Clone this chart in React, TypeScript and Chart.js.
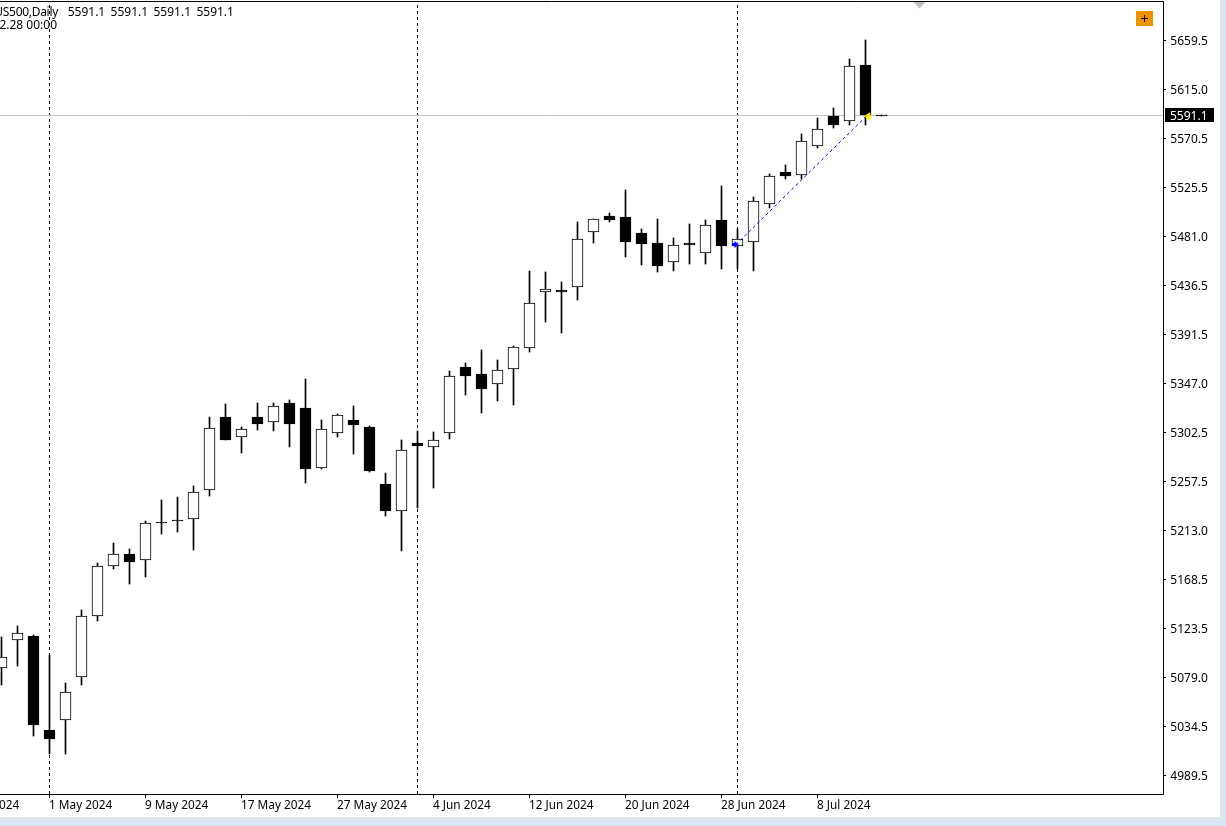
import React, { useEffect, useRef } from "react";
import { Chart, registerables } from "chart.js";

Chart.register(...registerables);

const symbolText = "US500,Daily";
const quoteValues = [5591.1, 5591.1, 5591.1, 5591.1];
const timeText = "2024.02.28 00:00";
const currentPrice = 5591.1;

const firstBarIndex = 3;
const tickLabels = ["23 Apr 2024", "1 May 2024", "9 May 2024", "17 May 2024", "27 May 2024", "4 Jun 2024", "12 Jun 2024", "20 Jun 2024", "28 Jun 2024", "8 Jul 2024"];
const tickIndices = [0, 6, 12, 18, 24, 30, 36, 42, 48, 54];
const yTicks = [5659.5, 5615.0, 5570.5, 5525.5, 5481.0, 5436.5, 5391.5, 5347.0, 5302.5, 5257.5, 5213.0, 5168.5, 5123.5, 5079.0, 5034.5, 4989.5];
const separators = [6, 29, 49];

const highs = [
  5115.8, 5125.8, 5117.6, 5099.4, 5073.8, 5140.4, 5183.2, 5201.4, 5196.0, 5221.5,
  5240.6, 5243.4, 5253.4, 5316.3, 5328.2, 5307.2, 5329.1, 5329.1, 5331.8, 5350.9,
  5313.6, 5319.0, 5326.3, 5308.1, 5265.3, 5295.3, 5303.5, 5302.6, 5358.2, 5365.5,
  5377.4, 5368.3, 5381.0, 5449.4, 5448.5, 5439.4, 5494.1, 5496.8, 5502.3, 5523.2,
  5487.7, 5496.8, 5479.5, 5492.2, 5495.9, 5526.9, 5487.7, 5516.8, 5537.8, 5546.0,
  5574.3, 5588.9, 5598.0, 5642.6, 5660.0, 5591.1,
];
const lows = [
  5072.0, 5089.3, 5025.5, 5009.1, 5009.1, 5072.0, 5130.3, 5177.7, 5164.1, 5170.5,
  5209.6, 5211.5, 5195.1, 5244.3, 5295.3, 5283.5, 5304.5, 5303.5, 5289.0, 5256.1,
  5268.9, 5298.1, 5282.6, 5266.2, 5226.1, 5194.2, 5233.4, 5251.6, 5296.2, 5336.4,
  5320.0, 5330.9, 5327.2, 5375.6, 5402.9, 5392.9, 5423.0, 5474.9, 5494.1, 5462.2,
  5454.9, 5448.5, 5449.4, 5455.8, 5455.8, 5451.2, 5451.2, 5449.4, 5506.8, 5533.3,
  5533.3, 5561.5, 5579.7, 5582.5, 5582.5, 5591.1,
];
const opens = [
  5087.5, 5113.0, 5116.7, 5031.0, 5040.1, 5079.3, 5134.9, 5180.5, 5191.4, 5186.0,
  5220.6, 5222.4, 5223.3, 5249.8, 5316.3, 5298.1, 5316.3, 5311.7, 5329.1, 5324.5,
  5269.8, 5301.7, 5313.6, 5307.2, 5255.2, 5230.6, 5292.6, 5289.0, 5301.7, 5361.9,
  5355.5, 5346.4, 5360.1, 5379.2, 5430.2, 5432.1, 5434.8, 5484.9, 5499.5, 5498.6,
  5484.0, 5474.9, 5457.6, 5474.9, 5465.8, 5495.9, 5472.2, 5475.8, 5510.5, 5539.6,
  5536.9, 5563.3, 5590.7, 5586.1, 5637.2, 5591.1,
];
const closes = [
  5097.5, 5119.4, 5035.5, 5022.8, 5065.6, 5134.9, 5180.5, 5191.4, 5184.1, 5219.7,
  5220.6, 5222.4, 5247.9, 5306.3, 5295.3, 5305.4, 5309.9, 5326.3, 5309.9, 5268.9,
  5305.4, 5318.1, 5309.0, 5267.1, 5230.6, 5286.2, 5289.9, 5295.3, 5353.7, 5353.7,
  5341.8, 5359.1, 5380.1, 5420.2, 5433.0, 5430.2, 5478.6, 5496.8, 5495.9, 5475.8,
  5474.0, 5453.9, 5473.1, 5473.1, 5491.3, 5472.2, 5478.6, 5513.2, 5536.0, 5536.0,
  5567.9, 5578.8, 5582.5, 5636.3, 5591.6, 5591.1,
];

const tradeEntry = { x: 48.9, y: 5473.5 };
const tradeExit = { x: 57.05, y: 5590.5 };
const exitMarker = { x: 57.15, y: 5590.2 };

// The terminal window is cropped at its left edge, so the canvas starts left of the page.
const CROP = 60;
const FONT = '"Noto Sans", sans-serif';
const FONT_SIZE = 12;
const xMin = -13.5 / 16;
const xMax = (1223 - 13.5) / 16;
const yMax = 5695.51;
const yMin = 4972.64;

function arrowPoint() {
  const c = document.createElement("canvas");
  c.width = 7;
  c.height = 7;
  const g = c.getContext("2d")!;
  g.fillStyle = "#0000ff";
  g.fillRect(0, 2, 3, 3);
  g.beginPath();
  g.moveTo(2, 0);
  g.lineTo(6.5, 3.5);
  g.lineTo(2, 7);
  g.closePath();
  g.fill();
  return c;
}

function noPadding(s: any) {
  s.paddingTop = 0;
  s.paddingBottom = 0;
  s.paddingLeft = 0;
  s.paddingRight = 0;
}

function nudgeLabels(s: any, dx: number, dy: number) {
  if (s.__nudged) return;
  s.__nudged = true;
  const draw = s.drawLabels.bind(s);
  s.drawLabels = (area: any) => {
    s.ctx.save();
    s.ctx.translate(dx, dy);
    draw(area);
    s.ctx.restore();
  };
}

const snapBars = {
  id: "snapBars",
  afterDatasetsUpdate(chart: any) {
    chart.getSortedVisibleDatasetMetas().forEach((meta: any) => {
      if (meta.type !== "bar") return;
      meta.data.forEach((el: any) => {
        el.y = Math.round(el.y - 0.1);
        el.base = Math.round(el.base - 0.1);
        if (el.y === el.base) el.base = el.y + 1;
      });
    });
  },
};

const terminalOverlay = {
  id: "terminalOverlay",
  afterDraw(chart: any) {
    const ctx = chart.ctx;
    const y = chart.scales.y;
    const sx = (v: number) => v + CROP;
    ctx.save();
    // chart frame
    ctx.strokeStyle = "#000";
    ctx.lineWidth = 1;
    ctx.beginPath();
    ctx.moveTo(0, 1.5);
    ctx.lineTo(sx(1163.5), 1.5);
    ctx.lineTo(sx(1163.5), 794.5);
    ctx.lineTo(0, 794.5);
    ctx.stroke();
    // header
    ctx.fillStyle = "#000";
    ctx.font = `${FONT_SIZE}px ${FONT}`;
    ctx.textBaseline = "alphabetic";
    ctx.textAlign = "right";
    ctx.letterSpacing = "-0.3px";
    ctx.fillText(symbolText, sx(58), 16);
    ctx.letterSpacing = "0px";
    ctx.fillText(timeText, sx(57), 29);
    ctx.textAlign = "left";
    quoteValues.forEach((q, i) => ctx.fillText(q.toFixed(1), sx(67.7 + i * 42.9), 16));
    // shift marker
    ctx.fillStyle = "#c0c0c0";
    ctx.beginPath();
    ctx.moveTo(sx(913.5), 2);
    ctx.lineTo(sx(925.5), 2);
    ctx.lineTo(sx(919.5), 8.5);
    ctx.closePath();
    ctx.fill();
    // one-click trading button
    ctx.fillStyle = "#ee9300";
    ctx.fillRect(sx(1136), 11, 17, 15);
    ctx.fillStyle = "#000";
    ctx.fillRect(sx(1141), 18, 7, 1);
    ctx.fillRect(sx(1144), 15, 1, 7);
    // current price tag
    const py = Math.floor(y.getPixelForValue(currentPrice));
    ctx.fillStyle = "#000";
    ctx.fillRect(sx(1165), py - 7, 49, 14);
    ctx.fillStyle = "#fff";
    ctx.textAlign = "left";
    ctx.fillText(currentPrice.toFixed(1), sx(1170), py + 5);
    ctx.restore();
  },
};

export default function App() {
  const ref = useRef<HTMLCanvasElement>(null);
  useEffect(() => {
    document.body.style.margin = "0";
    const xs = highs.map((_, i) => i + firstBarIndex);
    const chart = new Chart(ref.current!, {
      type: "bar",
      plugins: [snapBars, terminalOverlay],
      data: {
        datasets: [
          {
            type: "line",
            label: "trade",
            order: 0,
            data: [tradeEntry, tradeExit],
            borderColor: "#0000ff",
            borderWidth: 1,
            borderDash: [3, 3],
            pointRadius: 0,
          },
          {
            type: "line",
            label: "entry",
            order: 0,
            data: [tradeEntry],
            showLine: false,
            pointStyle: arrowPoint(),
            pointRadius: 3,
          },
          {
            type: "line",
            label: "exit",
            order: 0,
            data: [exitMarker],
            showLine: false,
            pointStyle: "triangle",
            pointRotation: -90,
            pointRadius: 5,
            pointBackgroundColor: "#ffee00",
            pointBorderColor: "#ffee00",
            pointBorderWidth: 0,
          },
          {
            type: "bar",
            label: "body",
            order: 1,
            grouped: false,
            barThickness: 11,
            data: xs.map((x, i) => ({ x, y: [opens[i], closes[i]] })),
            backgroundColor: xs.map((_, i) => (closes[i] > opens[i] ? "#ffffff" : "#000000")),
            borderColor: "#000000",
            borderWidth: 1,
            borderSkipped: false,
          },
          {
            type: "bar",
            label: "wick",
            order: 2,
            grouped: false,
            barThickness: 1,
            data: xs.map((x, i) => ({ x, y: [lows[i], highs[i]] })),
            backgroundColor: "#000000",
            borderWidth: 0,
          },
          {
            type: "line",
            label: "price",
            order: 3,
            data: [{ x: xMin, y: currentPrice }, { x: xMax, y: currentPrice }],
            borderColor: "#c0c0c0",
            borderWidth: 1,
            pointRadius: 0,
          },
          ...separators.map((s) => ({
            type: "line" as const,
            label: "separator",
            order: 4,
            data: [{ x: s, y: yMin }, { x: s, y: yMax }],
            borderColor: "#000000",
            borderWidth: 1,
            borderDash: [3, 3],
            pointRadius: 0,
          })),
        ] as any,
      },
      options: {
        responsive: false,
        animation: false,
        events: [],
        layout: { autoPadding: false, padding: { top: 1, left: 0, right: 0, bottom: 0 } },
        plugins: { legend: { display: false }, tooltip: { enabled: false }, title: { display: false } },
        scales: {
          x: {
            type: "linear",
            position: "bottom",
            min: xMin,
            max: xMax,
            offset: false,
            afterBuildTicks: (s: any) => {
              s.ticks = tickIndices.map((value) => ({ value }));
            },
            afterFit: (s: any) => {
              s.height = 32;
              noPadding(s);
              nudgeLabels(s, -0.5, 0);
            },
            grid: { drawOnChartArea: false, drawTicks: true, tickLength: 4, tickColor: "#000", offset: false },
            border: { display: false },
            ticks: {
              autoSkip: false,
              maxRotation: 0,
              minRotation: 0,
              align: "start",
              padding: 1,
              color: "#000",
              font: { family: FONT, size: 11.8 },
              callback: (v: any) => tickLabels[tickIndices.indexOf(Number(v))] ?? "",
            },
          },
          y: {
            type: "linear",
            position: "right",
            min: yMin,
            max: yMax,
            afterBuildTicks: (s: any) => {
              s.ticks = yTicks.map((value) => ({ value }));
            },
            afterFit: (s: any) => {
              s.width = 63;
              noPadding(s);
              nudgeLabels(s, 0.3, 1);
            },
            grid: { drawOnChartArea: false, drawTicks: true, tickLength: 3, tickColor: "#000" },
            border: { display: false },
            ticks: {
              autoSkip: false,
              padding: 4,
              color: "#000",
              font: { family: FONT, size: FONT_SIZE },
              callback: (v: any) => Number(v).toFixed(1),
            },
          },
        },
      } as any,
    });
    return () => chart.destroy();
  }, []);

  return (
    <div style={{ position: "fixed", left: 0, top: 0, width: 1226, height: 826, overflow: "hidden", background: "#d9e5f3" }}>
      <div style={{ position: "absolute", left: 0, top: 0, width: 1220, height: 817, background: "#fff", borderRight: "2px solid #e3e3e3", borderBottom: "2px solid #e3e3e3" }} />
      <canvas ref={ref} width={1226 + CROP} height={826} style={{ position: "absolute", left: -CROP, top: 0, display: "block" }} />
    </div>
  );
}
